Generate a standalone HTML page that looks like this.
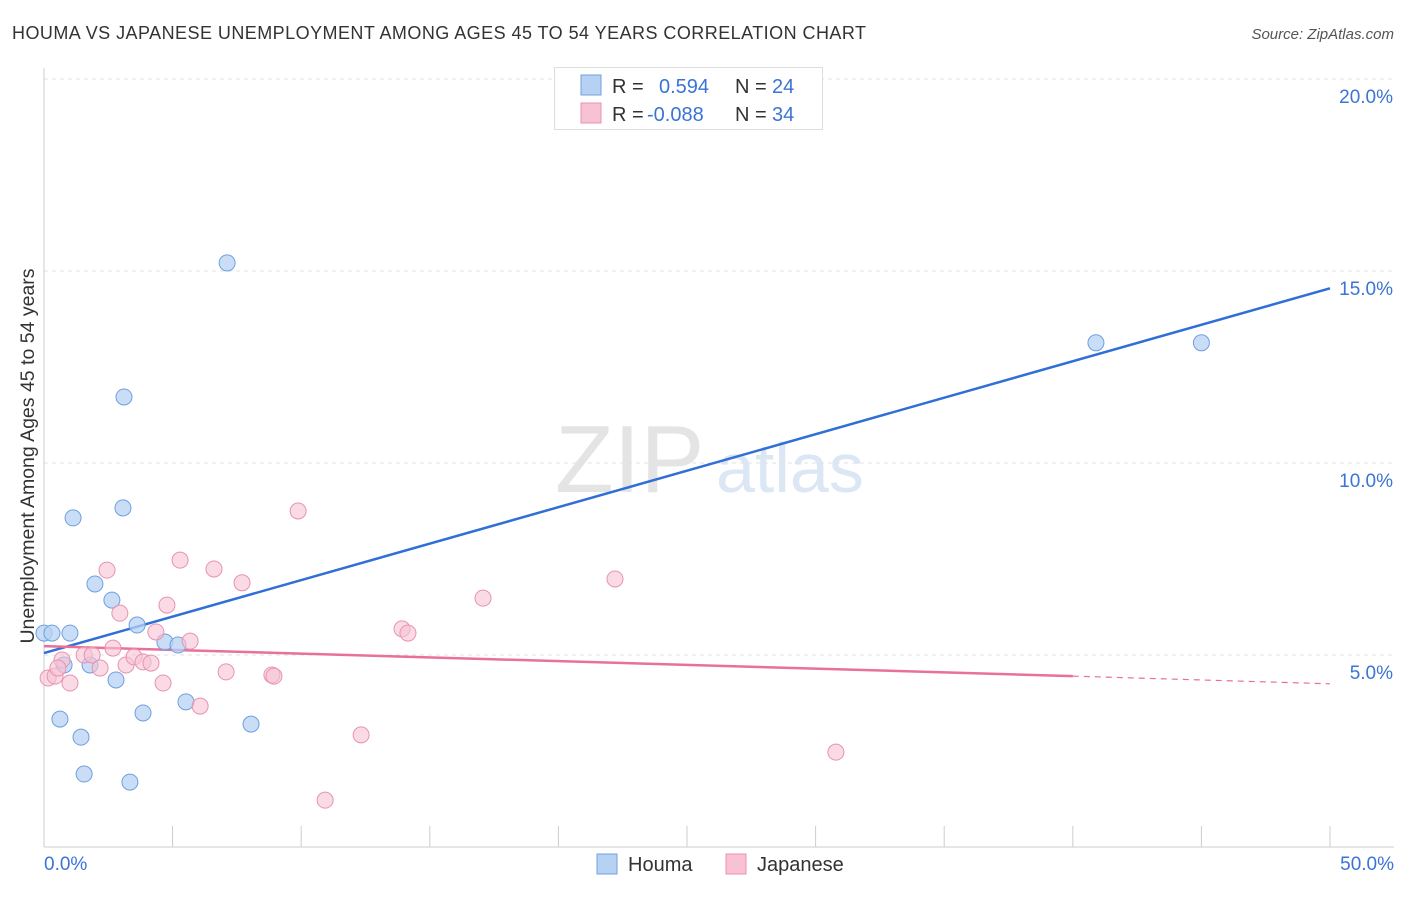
<!DOCTYPE html>
<html><head><meta charset="utf-8"><style>
body{margin:0;background:#fff;font-family:"Liberation Sans",sans-serif;}
svg text{font-family:"Liberation Sans",sans-serif;}
</style></head><body>
<svg id="chart" width="1406" height="892">
<text x="12" y="39" font-size="18" fill="#333" textLength="854" lengthAdjust="spacing">HOUMA VS JAPANESE UNEMPLOYMENT AMONG AGES 45 TO 54 YEARS CORRELATION CHART</text>
<text x="1394" y="39" font-size="15" fill="#555" text-anchor="end" font-style="italic">Source: ZipAtlas.com</text>
<text x="555" y="492" font-size="96" fill="#e4e4e4" font-family="Liberation Serif">ZIP</text>
<text x="716" y="492" font-size="70" fill="#dce7f6">atlas</text>
<g id="grid"></g>
<g id="axes"></g>
<g id="lines"></g>
<g id="points"></g>
<text x="34" y="456" font-size="19.5" fill="#333" text-anchor="middle" transform="rotate(-90 34 456)">Unemployment Among Ages 45 to 54 years</text>
<g>
<rect x="554.5" y="67.5" width="268" height="62" fill="#fff" stroke="#ddd"/>
<rect x="581" y="75" width="20" height="20" fill="#b7d1f3" stroke="#6f9fe0"/>
<rect x="581" y="103" width="20" height="20" fill="#f7c3d3" stroke="#e892b0"/>
<text x="612" y="93" font-size="20" fill="#333">R = </text><text x="659" y="93" font-size="20" fill="#3b74d6">0.594</text>
<text x="735" y="93" font-size="20" fill="#333">N = </text><text x="772" y="93" font-size="20" fill="#3b74d6">24</text>
<text x="612" y="121" font-size="20" fill="#333">R = </text><text x="647" y="121" font-size="20" fill="#3b74d6">-0.088</text>
<text x="735" y="121" font-size="20" fill="#333">N = </text><text x="772" y="121" font-size="20" fill="#3b74d6">34</text>
</g>
<g><rect x="597" y="854" width="20" height="20" fill="#b7d1f3" stroke="#6f9fe0"/><text x="628" y="871" font-size="20" fill="#333">Houma</text></g>
<g><rect x="726" y="854" width="20" height="20" fill="#f7c3d3" stroke="#e892b0"/><text x="757" y="871" font-size="20" fill="#333">Japanese</text></g>
</svg>
<script>
const houmaX=[0,0.31,0.78,1.01,1.13,1.98,2.64,2.80,3.11,3.07,3.62,0.62,1.44,1.56,3.85,3.34,4.70,5.21,5.52,7.12,8.05,40.9,45.0,1.79];
const houmaY=[5.57,5.57,4.74,5.57,8.57,6.85,6.43,4.35,11.72,8.83,5.78,3.33,2.86,1.90,3.49,1.69,5.34,5.26,3.78,15.21,3.20,13.13,13.13,4.74];
const japX=[0.16,0.43,0.70,1.01,1.56,1.87,2.18,2.45,2.68,2.95,3.19,3.50,3.85,4.16,4.35,4.63,4.78,5.29,5.68,6.07,6.61,7.08,7.70,8.86,8.94,9.88,10.93,12.33,13.92,14.15,17.07,22.2,30.79,0.54];
const japY=[4.40,4.45,4.87,4.27,5.0,5.0,4.66,7.21,5.18,6.09,4.74,4.95,4.82,4.79,5.6,4.27,6.30,7.47,5.36,3.67,7.24,4.56,6.88,4.48,4.45,8.75,1.22,2.92,5.68,5.57,6.48,6.98,2.47,4.66];
const yTicks=[5,10,15,20];
const yTickLabels=["5.0%","10.0%","15.0%","20.0%"];
const xTickVals=[0,5,10,15,20,25,30,35,40,45,50];
const houmaTrend=[0,5.05,50,14.55];
const japTrend=[0,5.23,40,4.45,50,4.25];
const NS="http://www.w3.org/2000/svg";
const sx=v=>44+v*25.72, sy=v=>847-v*38.4;
function mk(tag,attrs,parent){const e=document.createElementNS(NS,tag);for(const k in attrs)e.setAttribute(k,attrs[k]);document.getElementById(parent).appendChild(e);return e;}
yTicks.forEach((t,i)=>{
 const g=mk('line',{x1:44,x2:1394,y1:sy(t),y2:sy(t),stroke:'#e2e2e2','stroke-dasharray':'4,4'},'grid');
 
 
 const l=mk('text',{x:1393,y:sy(t)+24,'font-size':19,fill:'#3b74d6','text-anchor':'end'},'axes');l.textContent=yTickLabels[i];
 
 
});
let ax=mk('line',{x1:44,x2:44,y1:68,y2:847,stroke:'#ccc'},'axes');


ax=mk('line',{x1:44,x2:1394,y1:847,y2:847,stroke:'#ccc'},'axes');


xTickVals.forEach(v=>{const t=mk('line',{x1:sx(v),x2:sx(v),y1:826,y2:847,stroke:'#ccc'},'axes');
 
 });
let xl=mk('text',{x:44,y:870,'font-size':19,fill:'#3b74d6'},'axes');xl.textContent='0.0%';


xl=mk('text',{x:1394,y:870,'font-size':19,fill:'#3b74d6','text-anchor':'end'},'axes');xl.textContent='50.0%';


houmaX.forEach((x,i)=>{const c=mk('circle',{cx:sx(x),cy:sy(houmaY[i]),r:8,fill:'#b7d1f3','fill-opacity':0.75,stroke:'#6f9fe0'},'points');
 
 });
japX.forEach((x,i)=>{const c=mk('circle',{cx:sx(x),cy:sy(japY[i]),r:8,fill:'#f7c3d3','fill-opacity':0.6,stroke:'#e892b0'},'points');
 
 });
let tl=mk('line',{x1:sx(houmaTrend[0]),y1:sy(houmaTrend[1]),x2:sx(houmaTrend[2]),y2:sy(houmaTrend[3]),stroke:'#2f6fd6','stroke-width':2.5},'lines');


tl=mk('line',{x1:sx(japTrend[0]),y1:sy(japTrend[1]),x2:sx(japTrend[2]),y2:sy(japTrend[3]),stroke:'#e8709a','stroke-width':2.5},'lines');


tl=mk('line',{x1:sx(japTrend[2]),y1:sy(japTrend[3]),x2:sx(japTrend[4]),y2:sy(japTrend[5]),stroke:'#e8709a','stroke-width':1.2,'stroke-dasharray':'6,5'},'lines');


</script>
</body></html>
